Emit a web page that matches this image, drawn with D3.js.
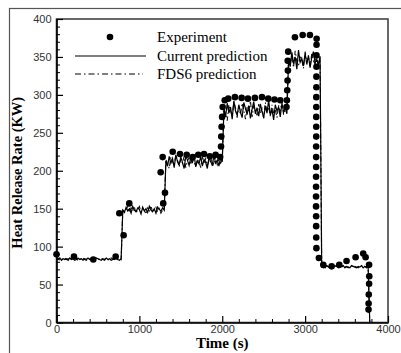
<!DOCTYPE html>
<html>
<head>
<meta charset="utf-8">
<script src="https://cdn.jsdelivr.net/npm/d3@7"></script>
<style>
  body { margin: 0; background: #fff; }
</style>
</head>
<body>
<svg id="chart"></svg>
<script>
// Heat release rate vs time: experiment vs predictions
const dt = 20; // prediction samples every 20 s, starting at t = 0

const currentHRR = [
    84, 83, 85, 82, 84, 83, 84, 82, 85, 83, 84, 82, 83, 85, 83, 84, 82, 84, 83, 85,
    83, 84, 82, 83, 85, 84, 83, 82, 84, 83, 85, 83, 84, 82, 83, 84, 85, 83, 82, 84,
    148, 145, 152, 147, 150, 144, 153, 148, 146, 151, 149, 143, 152, 147, 150, 145, 153, 148, 146, 150,
    144, 152, 149, 147, 151, 148,
    213, 206, 219, 210, 216, 204, 221, 212, 208, 218, 211, 203, 220, 214, 207, 217, 210, 222, 205, 213,
    209, 219, 206, 215, 211, 203, 218, 212, 208, 220, 210, 214, 206, 217, 212,
    280, 271, 289, 276, 284, 268, 292, 279, 273, 287, 277, 270, 290, 282, 274, 286, 269, 281, 291, 275,
    283, 272, 288, 278, 270, 285, 276, 293, 273, 281, 267, 287, 279, 284, 271, 289, 277, 283, 275,
    345, 337, 356, 341, 350, 334, 359, 343, 348, 338, 355, 340, 352, 336, 349, 357, 342, 347, 339, 351,
    73, 74, 72, 75, 73, 74, 72, 73, 75, 74, 72, 73, 74, 75, 72, 74, 73, 72, 75, 74,
    73, 72, 74, 73, 75, 72, 74, 73, 74,
    0
];

const fds6HRR = [
    83, 85, 82, 84, 83, 85, 83, 84, 82, 84, 83, 85, 84, 82, 84, 83, 85, 83, 82, 84,
    84, 83, 85, 82, 84, 83, 84, 85, 83, 82, 84, 83, 82, 85, 84, 83, 82, 84, 85, 83,
    150, 146, 149, 153, 145, 151, 147, 152, 144, 149, 153, 146, 150, 148, 143, 151, 147, 154, 145, 149,
    152, 146, 150, 144, 148, 150,
    215, 209, 203, 218, 212, 207, 221, 214, 205, 216, 210, 219, 204, 213, 217, 208, 222, 211, 206, 215,
    212, 204, 218, 209, 216, 207, 213, 220, 205, 211, 217, 208, 215, 210, 214,
    282, 275, 266, 287, 279, 272, 291, 283, 270, 285, 274, 289, 280, 268, 284, 277, 292, 271, 286, 279,
    273, 288, 276, 282, 269, 290, 278, 284, 272, 287, 275, 281, 270, 286, 278, 292, 274, 280, 285,
    348, 340, 353, 336, 358, 344, 339, 352, 346, 335, 357, 343, 350, 338, 354, 345, 341, 356, 337, 349,
    74, 72, 73, 75, 74, 72, 73, 74, 73, 75, 74, 72, 73, 75, 74, 73, 72, 74, 75, 73,
    74, 73, 72, 74, 75, 73, 74, 72, 73,
    0
];

const expTime = [
    0, 211, 444, 714, 758, 810, 878, 1257, 1281, 1288, 1309,
    1402, 1490, 1571, 1643, 1711, 1780, 1850, 1920,
    1975, 1985, 1988, 1992, 1998, 2005, 2030,
    2072, 2153, 2234, 2310, 2394, 2479, 2555, 2630, 2700,
    2775, 2780, 2784, 2788, 2792, 2790, 2796, 2877, 2970, 3058, 3139,
    3138, 3137, 3137, 3136, 3136, 3135, 3135, 3134, 3134, 3134, 3133, 3133, 3133, 3132,
    3132, 3132, 3132, 3133, 3133, 3134, 3136, 3166,
    3219, 3320, 3412, 3500, 3609, 3701, 3730,
    3772, 3774, 3772, 3768, 3766, 3765
];
const expHRR = [
    90, 87, 83, 87, 144, 115, 157, 198, 218, 157, 171,
    225, 222, 221, 218, 221, 222, 219, 221,
    218, 232, 245, 258, 271, 284, 293,
    295, 297, 296, 295, 296, 297, 295, 294, 293,
    284, 293, 306, 319, 332, 345, 357, 376, 379, 379, 374,
    366, 352, 337, 324, 310, 297, 284, 271, 258, 245, 232, 218, 205, 192,
    179, 166, 153, 140, 127, 112, 98, 85,
    76, 74, 76, 81, 86, 91, 86,
    76, 61, 51, 37, 25, 17
];

const xTicks = [0, 1000, 2000, 3000, 4000];
const yTicks = [0, 50, 100, 150, 200, 250, 300, 350, 400];
const legendLabels = ["Experiment", "Current prediction", "FDS6 prediction"];

const W = 401, H = 353;
const margin = { top: 19, right: 13, bottom: 30.5, left: 56.5 },
    width = W - margin.left - margin.right,
    height = H - margin.top - margin.bottom;

const root = d3.select("#chart")
    .attr("width", W)
    .attr("height", H);

// outer picture frame
root.append("rect")
    .attr("x", 9.5).attr("y", 8.5)
    .attr("width", W).attr("height", H)
    .attr("fill", "none")
    .attr("stroke", "#555")
    .attr("stroke-width", 1.2);

const svg = root.append("g")
    .attr("transform", `translate(${margin.left},${margin.top})`);

const x = d3.scaleLinear().domain([0, 4000]).range([0, width]);
const y = d3.scaleLinear().domain([0, 400]).range([height, 0]);

// plot frame
svg.append("rect")
    .attr("width", width).attr("height", height)
    .attr("fill", "none")
    .attr("stroke", "#444")
    .attr("stroke-width", 1.6);

// minor ticks
const xMinor = d3.range(0, 4001, 200).filter(v => v % 1000 !== 0);
const yMinor = d3.range(0, 401, 10).filter(v => v % 50 !== 0);

svg.append("g")
    .attr("transform", `translate(0,${height})`)
    .call(d3.axisBottom(x).tickValues(xMinor).tickSizeInner(-3.5).tickSizeOuter(0).tickFormat(""))
    .call(g => g.select(".domain").remove());
svg.append("g")
    .call(d3.axisLeft(y).tickValues(yMinor).tickSizeInner(-3.5).tickSizeOuter(0).tickFormat(""))
    .call(g => g.select(".domain").remove());

const xAxis = svg.append("g")
    .attr("transform", `translate(0,${height})`)
    .call(d3.axisBottom(x).tickValues(xTicks).tickFormat(d3.format("d"))
        .tickSizeInner(-6.5).tickSizeOuter(0).tickPadding(3));
const yAxis = svg.append("g")
    .call(d3.axisLeft(y).tickValues(yTicks).tickFormat(d3.format("d"))
        .tickSizeInner(-6.5).tickSizeOuter(0).tickPadding(5));

[xAxis, yAxis].forEach(g => {
    g.selectAll("text")
        .style("font-family", "'Liberation Sans', Arial, sans-serif")
        .style("font-size", "11px")
        .attr("fill", "#333");
    g.select(".domain").attr("stroke-width", 1.6);
    g.selectAll(".tick line").attr("stroke-width", 1.2);
});

// axis titles
svg.append("text")
    .attr("x", width / 2)
    .attr("y", height + 25)
    .attr("text-anchor", "middle")
    .style("font-family", "'Liberation Serif', 'Times New Roman', serif")
    .style("font-weight", "bold")
    .style("font-size", "15px")
    .text("Time (s)");

svg.append("text")
    .attr("transform", `translate(${-margin.left + 22},${height / 2 + 2}) rotate(-90)`)
    .attr("text-anchor", "middle")
    .style("font-family", "'Liberation Serif', 'Times New Roman', serif")
    .style("font-weight", "bold")
    .style("font-size", "14.5px")
    .text("Heat Release Rate (KW)");

// prediction lines
const line = d3.line()
    .x((d, i) => x(i * dt))
    .y(d => y(d));

svg.append("path")
    .datum(fds6HRR)
    .attr("fill", "none")
    .attr("stroke", "#111")
    .attr("stroke-width", 1.1)
    .attr("stroke-dasharray", "5,2.5,1.5,2.5")
    .attr("d", line);

svg.append("path")
    .datum(currentHRR)
    .attr("fill", "none")
    .attr("stroke", "#000")
    .attr("stroke-width", 1.2)
    .attr("d", line);

// experiment dots
svg.selectAll(".dot")
    .data(expHRR)
    .enter().append("circle")
    .attr("class", "dot")
    .attr("cx", (d, i) => x(expTime[i]))
    .attr("cy", d => y(d))
    .attr("r", 3.3)
    .attr("fill", "#000");

// legend
const legend = svg.append("g")
    .attr("transform", `translate(${-margin.left},${-margin.top})`);

legend.append("circle")
    .attr("cx", 110).attr("cy", 37).attr("r", 3.3).attr("fill", "#000");
legend.append("line")
    .attr("x1", 75).attr("x2", 146).attr("y1", 56).attr("y2", 56)
    .attr("stroke", "#000").attr("stroke-width", 1.2);
legend.append("line")
    .attr("x1", 75).attr("x2", 143).attr("y1", 74).attr("y2", 74)
    .attr("stroke", "#000").attr("stroke-width", 1.2)
    .attr("stroke-dasharray", "6,3,1.5,3");

legend.selectAll(".legend-text")
    .data(legendLabels)
    .enter().append("text")
    .attr("class", "legend-text")
    .attr("x", 157)
    .attr("y", (d, i) => 42 + i * 18.5)
    .style("font-family", "'Liberation Serif', 'Times New Roman', serif")
    .style("font-size", "15px")
    .text(d => d);
</script>
</body>
</html>
